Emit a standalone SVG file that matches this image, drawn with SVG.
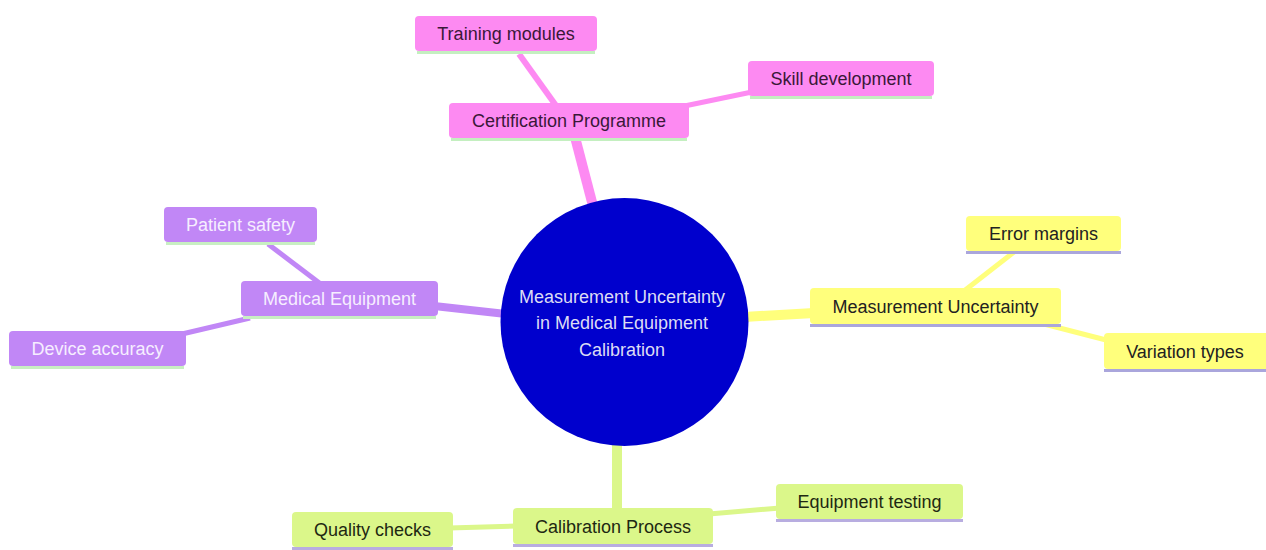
<svg xmlns="http://www.w3.org/2000/svg" width="1266" height="550" viewBox="0 0 1266 550">
<style>
  text { font-family: "Liberation Sans", Arial, sans-serif; font-size: 18px; text-anchor: middle; }
  .edge { fill: none; stroke-linecap: butt; }
  .pink rect { fill: #fd8af2; }
  .pink text { fill: #3a1838; }
  .pink line { stroke: #c4efc0; }
  .purple rect { fill: #c187f6; }
  .purple text { fill: #f6eeff; }
  .purple line { stroke: #c8efc2; }
  .yellow rect { fill: #ffff7c; }
  .yellow text { fill: #222222; }
  .yellow line { stroke: #aaa6dc; }
  .green rect { fill: #dbf78a; }
  .green text { fill: #1e2812; }
  .green line { stroke: #b8ade0; }
  .node line { stroke-width: 3; }
  .ep { stroke: #fd8af2; }
  .eu { stroke: #c187f6; }
  .ey { stroke: #ffff7c; }
  .eg { stroke: #dbf78a; }
</style>
<rect width="1266" height="550" fill="#ffffff"/>
<g id="connectors">
  <line class="edge ep" x1="593" y1="206" x2="575" y2="137" stroke-width="10"/>
  <line class="edge ep" x1="557" y1="107" x2="519" y2="54" stroke-width="6"/>
  <line class="edge ep" x1="670" y1="109" x2="752" y2="92" stroke-width="5"/>
  <line class="edge eu" x1="506" y1="314" x2="434" y2="306" stroke-width="8"/>
  <line class="edge eu" x1="322" y1="285" x2="268" y2="244" stroke-width="5"/>
  <line class="edge eu" x1="250" y1="318" x2="182" y2="334" stroke-width="5"/>
  <line class="edge ey" x1="744" y1="317" x2="814" y2="313" stroke-width="10"/>
  <line class="edge ey" x1="964" y1="291" x2="1014" y2="252" stroke-width="5"/>
  <line class="edge ey" x1="1044" y1="324" x2="1110" y2="341" stroke-width="5"/>
  <line class="edge eg" x1="617" y1="444" x2="617" y2="511" stroke-width="10"/>
  <line class="edge eg" x1="709" y1="514" x2="780" y2="508" stroke-width="5"/>
  <line class="edge eg" x1="449" y1="528" x2="517" y2="526" stroke-width="5"/>
</g>
<g id="root">
  <circle cx="624.5" cy="322" r="124" fill="#0000cd"/>
  <text x="622" y="302.5" fill="#dcdcf4">Measurement Uncertainty</text>
  <text x="622" y="329" fill="#dcdcf4">in Medical Equipment</text>
  <text x="622" y="355.5" fill="#dcdcf4">Calibration</text>
</g>
<g id="certification-programme" class="node pink">
  <rect x="449" y="103" width="240" height="35" rx="4"/>
  <line x1="451" y1="139.5" x2="687" y2="139.5"/>
  <text x="569" y="127">Certification Programme</text>
</g>
<g id="training-modules" class="node pink">
  <rect x="415" y="16" width="182" height="35" rx="4"/>
  <line x1="417" y1="52.5" x2="595" y2="52.5"/>
  <text x="506" y="40">Training modules</text>
</g>
<g id="skill-development" class="node pink">
  <rect x="748" y="61" width="186" height="35" rx="4"/>
  <line x1="750" y1="97.5" x2="932" y2="97.5"/>
  <text x="841" y="85">Skill development</text>
</g>
<g id="medical-equipment" class="node purple">
  <rect x="241" y="281" width="197" height="35" rx="4"/>
  <line x1="243" y1="317.5" x2="436" y2="317.5"/>
  <text x="339.5" y="305">Medical Equipment</text>
</g>
<g id="patient-safety" class="node purple">
  <rect x="164" y="207" width="153" height="35" rx="4"/>
  <line x1="166" y1="243.5" x2="315" y2="243.5"/>
  <text x="240.5" y="231">Patient safety</text>
</g>
<g id="device-accuracy" class="node purple">
  <rect x="9" y="331" width="177" height="35" rx="4"/>
  <line x1="11" y1="367.5" x2="184" y2="367.5"/>
  <text x="97.5" y="355">Device accuracy</text>
</g>
<g id="measurement-uncertainty" class="node yellow">
  <rect x="810" y="288" width="251" height="36" rx="4"/>
  <line x1="810" y1="325.5" x2="1061" y2="325.5"/>
  <text x="935.5" y="312.5">Measurement Uncertainty</text>
</g>
<g id="error-margins" class="node yellow">
  <rect x="966" y="216" width="155" height="35" rx="4"/>
  <line x1="966" y1="252.5" x2="1121" y2="252.5"/>
  <text x="1043.5" y="240">Error margins</text>
</g>
<g id="variation-types" class="node yellow">
  <rect x="1104" y="333" width="166" height="36" rx="4"/>
  <line x1="1104" y1="370.5" x2="1266" y2="370.5"/>
  <text x="1185" y="357.5">Variation types</text>
</g>
<g id="calibration-process" class="node green">
  <rect x="513" y="508" width="200" height="36" rx="4"/>
  <line x1="513" y1="545.5" x2="713" y2="545.5"/>
  <text x="613" y="532.5">Calibration Process</text>
</g>
<g id="equipment-testing" class="node green">
  <rect x="776" y="484" width="187" height="35" rx="4"/>
  <line x1="776" y1="520.5" x2="963" y2="520.5"/>
  <text x="869.5" y="508">Equipment testing</text>
</g>
<g id="quality-checks" class="node green">
  <rect x="292" y="512" width="161" height="35" rx="4"/>
  <line x1="292" y1="548.5" x2="453" y2="548.5"/>
  <text x="372.5" y="536">Quality checks</text>
</g>
</svg>
